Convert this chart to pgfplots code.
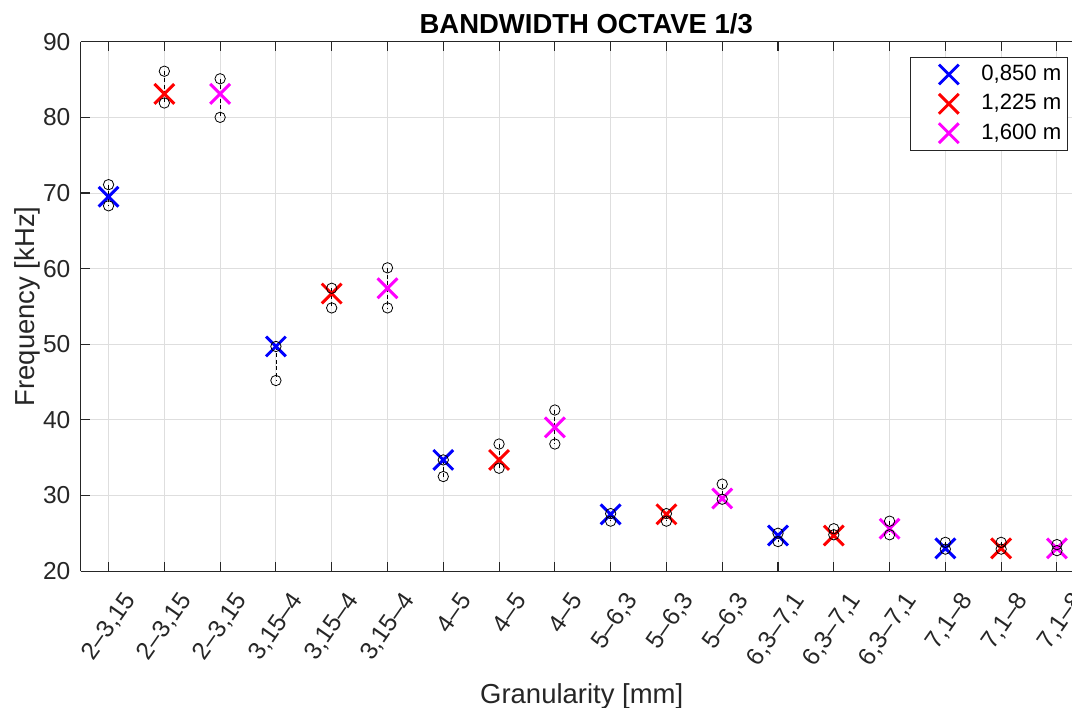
\documentclass[border=0pt]{standalone}
\usepackage{pgfplots}
\pgfplotsset{compat=1.18}
\usepackage{fontspec}
\setmainfont{Liberation Sans}
\definecolor{axgray}{rgb}{0.15,0.15,0.15}
\definecolor{gridgray}{rgb}{0.87,0.87,0.87}
\definecolor{mblue}{rgb}{0,0,1}
\definecolor{mred}{rgb}{1,0,0}
\definecolor{mmag}{rgb}{1,0,1}
\pgfplotstableread{
x  y
0 69.5
3 49.7
6 34.7
9 27.5
12 24.7
15 23.0
}\blueX
\pgfplotstableread{
x  y
1 83.1
4 56.7
7 34.7
10 27.5
13 24.7
16 23.0
}\redX
\pgfplotstableread{
x  y
2 83.1
5 57.4
8 39.0
11 29.6
14 25.6
17 23.0
}\magX
\begin{document}
\begin{tikzpicture}
\useasboundingbox (-60.5pt,-102pt) rectangle (743.5pt,428.3pt);
\begin{axis}[
  at={(0pt,0pt)}, anchor=south west,
  scale only axis, width=743.5pt, height=397pt,
  xmin=-0.5, xmax=17.27, ymin=20, ymax=90,
  axis x line*=box, axis y line*=left,
  axis line style={axgray, line width=0.8pt},
  xtick={0,...,17},
  xticklabels={{2--3,15},{2--3,15},{2--3,15},{3,15--4},{3,15--4},{3,15--4},{4--5},{4--5},{4--5},{5--6,3},{5--6,3},{5--6,3},{6,3--7,1},{6,3--7,1},{6,3--7,1},{7,1--8},{7,1--8},{7,1--8}},
  ytick={20,30,...,90},
  xtick pos=both, ytick pos=left,
  tick align=inside, major tick length=7pt,
  tick style={axgray, line width=0.8pt},
  grid=major, grid style={gridgray, line width=0.7pt},
  /pgf/number format/assume math mode=true,
  tick label style={font=\fontsize{18.4}{20}\selectfont, text=axgray},
  y tick label style={anchor=east, inner sep=0pt, xshift=-7.5pt},
  x tick label style={anchor=east, inner sep=0pt, xshift=16.5pt, yshift=-18.5pt, rotate=55},
  title={BANDWIDTH OCTAVE 1/3},
  title style={at={(axis description cs:0.51,1)}, anchor=base, yshift=0.5pt, font=\bfseries\fontsize{20.6}{24}\selectfont, inner sep=0pt},
  xlabel={Granularity [mm]},
  xlabel style={at={(axis description cs:0.5054,0)}, anchor=base, yshift=-99.5pt, font=\fontsize{20.6}{24}\selectfont, text=axgray, inner sep=0pt},
  ylabel={Frequency [kHz]},
  ylabel style={at={([xshift=-34.3pt]axis description cs:0,0.5)}, anchor=base, font=\fontsize{20.6}{24}\selectfont, text=axgray, inner sep=0pt},
  legend cell align=left,
  legend style={at={(0.9957,0.9716)}, anchor=north east, draw=axgray, line width=0.6pt,
    font=\fontsize{16.6}{20}\selectfont, inner xsep=2.5pt, inner ysep=3.5pt,
    row sep=3pt, column sep=6.8pt,
    nodes={inner sep=2pt, text height=12pt, text depth=3pt}},
  legend image code/.code={\path (0pt,0pt) (40pt,0pt); \draw[#1] plot coordinates {(25.5pt,0pt)};},
  unbounded coords=jump,
]
\addplot[only marks, mark=x, mark size=10.5pt, line width=2.2pt, mblue] table {\blueX};
\addlegendentry{0,850 m}
\addplot[only marks, mark=x, mark size=10.5pt, line width=2.2pt, mred] table {\redX};
\addlegendentry{1,225 m}
\addplot[only marks, mark=x, mark size=10.5pt, line width=2.2pt, mmag] table {\magX};
\addlegendentry{1,600 m}
\addplot[forget plot, black, line width=0.6pt, dash pattern=on 3pt off 2pt, mark=o, mark size=3.9pt, mark options={solid, line width=0.6pt}] coordinates {
(0,71.1) (0,68.3) (0,nan)
(1,86.1) (1,81.9) (1,nan)
(2,85.1) (2,80.0) (2,nan)
(3,49.7) (3,45.2) (3,nan)
(4,57.4) (4,54.8) (4,nan)
(5,60.1) (5,54.8) (5,nan)
(6,34.7) (6,32.5) (6,nan)
(7,36.8) (7,33.6) (7,nan)
(8,41.3) (8,36.8) (8,nan)
(9,27.6) (9,26.6) (9,nan)
(10,27.6) (10,26.6) (10,nan)
(11,31.5) (11,29.5) (11,nan)
(12,25.0) (12,23.9) (12,nan)
(13,25.6) (13,24.8) (13,nan)
(14,26.6) (14,24.8) (14,nan)
(15,23.8) (15,22.9) (15,nan)
(16,23.8) (16,22.9) (16,nan)
(17,23.5) (17,22.7)
};
\end{axis}
\end{tikzpicture}
\end{document}
